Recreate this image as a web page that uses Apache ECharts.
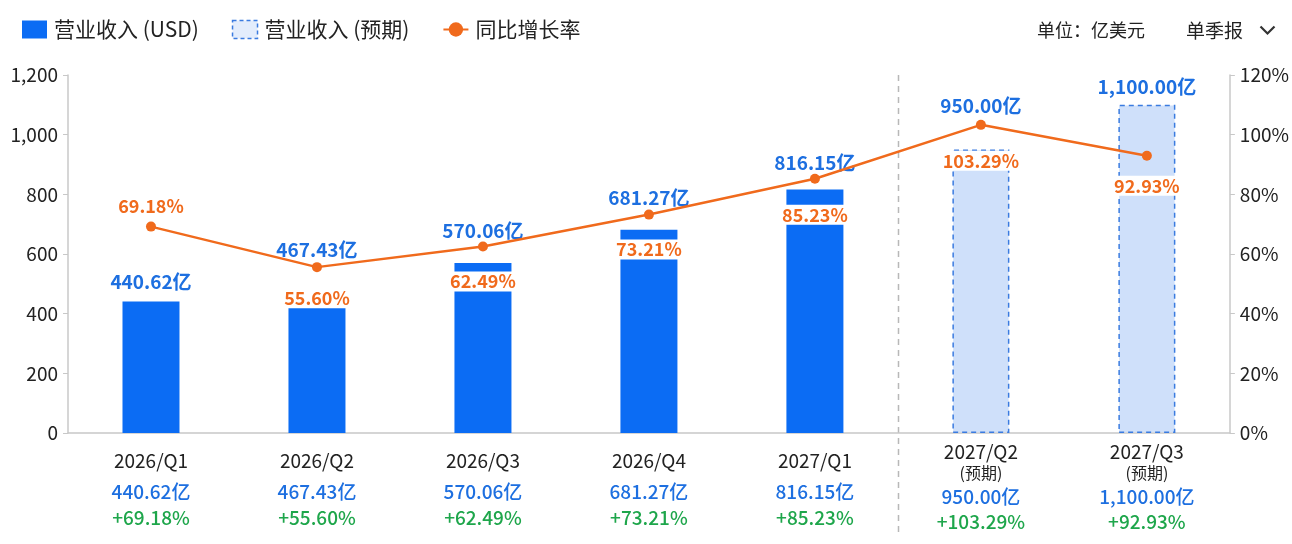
<!DOCTYPE html>
<html>
<head>
<meta charset="utf-8">
<script src="https://cdn.jsdelivr.net/npm/echarts@6/dist/echarts.min.js"></script>
<style>
  html, body { margin: 0; padding: 0; background: #fff; }
  #chart { width: 1292px; height: 544px; }
</style>
</head>
<body>
<div id="chart"></div>
<script>
// 数据
const quarters = ["2026/Q1", "2026/Q2", "2026/Q3", "2026/Q4", "2027/Q1", "2027/Q2", "2027/Q3"];
const isForecast = [false, false, false, false, false, true, true];
const revenue = [440.62, 467.43, 570.06, 681.27, 816.15, 950.0, 1100.0];
const growth = [69.18, 55.6, 62.49, 73.21, 85.23, 103.29, 92.93];
const leftTicks = [0, 200, 400, 600, 800, 1000, 1200];
const rightTicks = [0, 20, 40, 60, 80, 100, 120];

const BLUE = "#0b6cf4";
const LABEL_BLUE = "#1d6fe0";
const ORANGE = "#f06a1c";
const GREEN = "#1ea64b";
const FONT = "'Noto Sans CJK SC', 'Noto Sans', sans-serif";

const fmtMoney = (v) => v.toLocaleString("en-US", { minimumFractionDigits: 2, maximumFractionDigits: 2 }) + "亿";

// 标签间距：柱子标签让开折线点，折线标签放在点下方（第一个在上方）
const barLabelGap = [10, 34, 23, 22, 17, 34, 9];
const lineLabelGap = [5, 16, 20, 20, 21, 21, 15];

const chart = echarts.init(document.getElementById("chart"));

const barLabel = {
  show: true,
  position: "top",
  color: LABEL_BLUE,
  fontSize: 19,
  fontWeight: "bold",
  formatter: (p) => fmtMoney(p.value),
};

const option = {
  animation: false,
  textStyle: { fontFamily: FONT },
  legend: {
    left: 17,
    top: 14,
    itemWidth: 25,
    itemHeight: 18,
    itemGap: 33,
    textStyle: { fontSize: 21, color: "#222", fontFamily: FONT, padding: [0, 0, 0, 2] },
    data: [
      { name: "营业收入 (USD)", icon: "rect" },
      {
        name: "营业收入 (预期)",
        icon: "rect",
        itemStyle: { color: "#e3edfc", borderColor: "#3a7be0", borderWidth: 1.5, borderType: [4, 3] },
      },
      { name: "同比增长率" },
    ],
  },
  title: [
    { text: "单位：亿美元", right: 142, top: 16, textStyle: { fontSize: 18, fontWeight: "normal", color: "#222", fontFamily: FONT } },
    { text: "单季报", right: 44, top: 16, textStyle: { fontSize: 19, fontWeight: "normal", color: "#222", fontFamily: FONT } },
  ],
  graphic: [
    {
      type: "polyline",
      right: 15,
      top: 24,
      shape: { points: [[0, 0], [7, 7], [14, 0]] },
      style: { stroke: "#333", lineWidth: 2.2, fill: null },
    },
  ],
  grid: { left: 68, right: 62, top: 75, bottom: 111 },
  xAxis: {
    type: "category",
    data: quarters,
    axisLine: { lineStyle: { color: "#c8c8c8", width: 1.5 } },
    axisTick: { show: false },
    axisLabel: {
      interval: 0,
      margin: 10,
      formatter: (val, idx) => {
        const money = fmtMoney(revenue[idx]);
        const pct = "+" + growth[idx].toFixed(2) + "%";
        if (isForecast[idx]) {
          return `{catF|${val}}\n{sub|(预期)}\n{valF|${money}}\n{pct|${pct}}`;
        }
        return `{cat|${val}}\n{val|${money}}\n{pct|${pct}}`;
      },
      rich: {
        cat: { fontSize: 19, color: "#222", lineHeight: 36, fontFamily: FONT },
        catF: { fontSize: 19, color: "#222", lineHeight: 18, fontFamily: FONT },
        sub: { fontSize: 16, color: "#222", lineHeight: 24, fontFamily: FONT },
        val: { fontSize: 19, color: LABEL_BLUE, fontWeight: 500, lineHeight: 26, fontFamily: FONT },
        valF: { fontSize: 19, color: LABEL_BLUE, fontWeight: 500, lineHeight: 24, fontFamily: FONT },
        pct: { fontSize: 19, color: GREEN, fontWeight: 500, lineHeight: 26, fontFamily: FONT },
      },
    },
  },
  yAxis: [
    {
      type: "value",
      min: leftTicks[0],
      max: leftTicks[leftTicks.length - 1],
      interval: leftTicks[1] - leftTicks[0],
      axisLine: { show: true, lineStyle: { color: "#c8c8c8", width: 1.5 } },
      axisTick: { show: true, length: 5, lineStyle: { color: "#c8c8c8" } },
      splitLine: { show: false },
      axisLabel: {
        fontSize: 19,
        color: "#222",
        margin: 10,
        formatter: (v) => v.toLocaleString("en-US"),
      },
    },
    {
      type: "value",
      min: rightTicks[0],
      max: rightTicks[rightTicks.length - 1],
      interval: rightTicks[1] - rightTicks[0],
      position: "right",
      axisLine: { show: true, lineStyle: { color: "#c8c8c8", width: 1.5 } },
      axisTick: { show: true, length: 5, lineStyle: { color: "#c8c8c8" } },
      splitLine: { show: false },
      axisLabel: { fontSize: 19, color: "#222", margin: 10, formatter: "{value}%" },
    },
  ],
  series: [
    {
      name: "营业收入 (USD)",
      type: "bar",
      barWidth: 57,
      barGap: "-100%",
      itemStyle: { color: BLUE },
      data: revenue.map((v, i) => (isForecast[i] ? "-" : { value: v, label: { distance: barLabelGap[i] } })),
      label: barLabel,
      z: 2,
    },
    {
      name: "营业收入 (预期)",
      type: "bar",
      barWidth: 57,
      barGap: "-100%",
      itemStyle: { color: "#cfe0fa", borderColor: "#3a7be0", borderWidth: 1.5, borderType: [5, 4] },
      data: revenue.map((v, i) => (isForecast[i] ? { value: v, label: { distance: barLabelGap[i] } } : "-")),
      label: barLabel,
      z: 2,
    },
    {
      name: "同比增长率",
      type: "line",
      yAxisIndex: 1,
      symbol: "circle",
      symbolSize: 10,
      lineStyle: { color: ORANGE, width: 2.5 },
      itemStyle: { color: ORANGE },
      data: growth.map((v, i) => ({
        value: v,
        label: { position: i === 0 ? "top" : "bottom", distance: lineLabelGap[i] },
      })),
      label: {
        show: true,
        color: ORANGE,
        fontSize: 18,
        fontWeight: "bold",
        backgroundColor: "#fff",
        borderRadius: 6,
        padding: [1, 3],
        formatter: (p) => p.value.toFixed(2) + "%",
      },
      z: 5,
    },
  ],
};

chart.setOption(option);

// 实际与预期之间的分隔虚线
const xa = chart.convertToPixel({ xAxisIndex: 0 }, 4);
const xb = chart.convertToPixel({ xAxisIndex: 0 }, 5);
const xMid = Math.round((xa + xb) / 2) + 0.5;
const yTop = chart.convertToPixel({ yAxisIndex: 0 }, leftTicks[leftTicks.length - 1]);
chart.setOption({
  graphic: [
    option.graphic[0],
    {
      type: "line",
      shape: { x1: xMid, y1: yTop, x2: xMid, y2: 536 },
      style: { stroke: "#b8b8b8", lineWidth: 1.5, lineDash: [6, 5] },
      z: 0,
    },
  ],
});
</script>
</body>
</html>
